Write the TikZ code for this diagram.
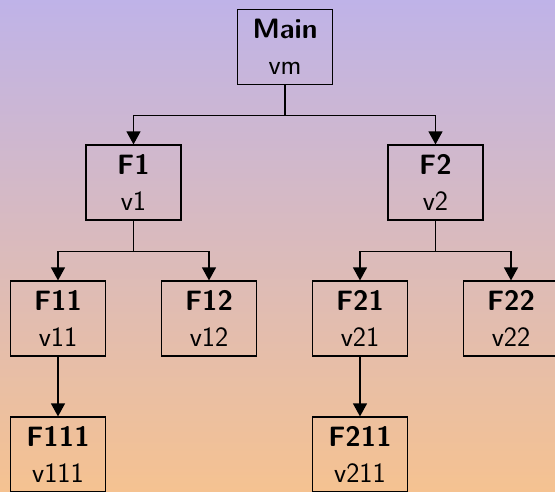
\documentclass[tikz,border=0pt]{standalone}
\usetikzlibrary{arrows.meta}
\definecolor{topc}{RGB}{191,179,232}
\definecolor{botc}{RGB}{245,194,145}
\tikzset{
  fbox/.style={draw=black, line width=1.2pt, minimum width=95pt, minimum height=75pt,
    inner sep=0pt, align=center, font=\fontsize{28}{36.3}\selectfont\sffamily},
  conn/.style={draw=black, line width=1.2pt, -{Triangle[width=14pt,length=13pt]}},
}
\begin{document}
\begin{tikzpicture}[x=1pt,y=-1pt]
\useasboundingbox (0,0) rectangle (555,491);
\shade[top color=topc, bottom color=botc] (0,0) rectangle (555,491);
\clip (0,0) rectangle (555,491);
\node[fbox] (main) at (285,47) {\textbf{Main}\\vm};
\node[fbox] (f1) at (133.5,182.5) {\textbf{F1}\\v1};
\node[fbox] (f2) at (435.5,182.5) {\textbf{F2}\\v2};
\node[fbox] (f11) at (58,318.5) {\textbf{F11}\\v11};
\node[fbox] (f12) at (209,318.5) {\textbf{F12}\\v12};
\node[fbox] (f21) at (360,318.5) {\textbf{F21}\\v21};
\node[fbox] (f22) at (511,318.5) {\textbf{F22}\\v22};
\node[fbox] (f111) at (58,454.5) {\textbf{F111}\\v111};
\node[fbox] (f211) at (360,454.5) {\textbf{F211}\\v211};
\draw[conn] (main.south) -- ++(0,30) -| (f1.north);
\draw[conn] (main.south) -- ++(0,30) -| (f2.north);
\draw[conn] (f1.south) -- ++(0,30.5) -| (f11.north);
\draw[conn] (f1.south) -- ++(0,30.5) -| (f12.north);
\draw[conn] (f2.south) -- ++(0,30.5) -| (f21.north);
\draw[conn] (f2.south) -- ++(0,30.5) -| (f22.north);
\draw[conn] (f11.south) -- (f111.north);
\draw[conn] (f21.south) -- (f211.north);
\end{tikzpicture}
\end{document}
